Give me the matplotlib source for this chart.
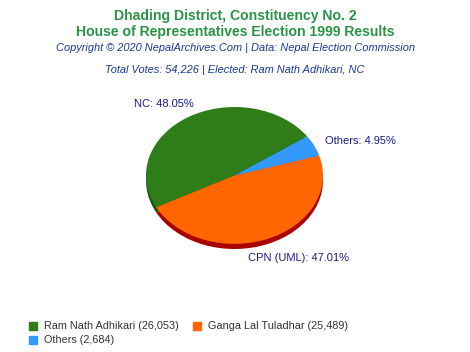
import matplotlib.pyplot as plt

plt.rcParams['font.family'] = ['Liberation Sans', 'DejaVu Sans']

candidates = ['Ram Nath Adhikari', 'Ganga Lal Tuladhar', 'Others']
parties = ['NC', 'CPN (UML)', 'Others']
votes = [26053, 25489, 2684]
colors = ['#2f7d18', '#ff6600', '#3399ff']
shades = ['#1f5210', '#aa0000', '#1f66aa']

total = sum(votes)
pct = [v / total * 100 for v in votes]

fig = plt.figure(figsize=(4.7, 3.52), dpi=100)

# titles
fig.text(0.5, 1 - 16 / 352, 'Dhading District, Constituency No. 2', ha='center', va='center',
         fontsize=10.1, fontweight='bold', color='#2a9445')
fig.text(0.5, 1 - 32 / 352, 'House of Representatives Election 1999 Results', ha='center', va='center',
         fontsize=10.1, fontweight='bold', color='#2a9445')
fig.text(0.5, 1 - 48 / 352, 'Copyright © 2020 NepalArchives.Com | Data: Nepal Election Commission',
         ha='center', va='center', fontsize=7.9, style='italic', color='#1a3a9a')
fig.text(0.5, 1 - 70 / 352, 'Total Votes: {:,} | Elected: {}, {}'.format(total, candidates[0], parties[0]),
         ha='center', va='center', fontsize=7.9, style='italic', color='#1a3a9a')

# pie with a small depth
depth = 0.075
ax = fig.add_axes([146 / 470, (352 - 249) / 352, 177 / 470, 142 / 352])
start = 34.8
ax.pie(votes, colors=shades, startangle=start, counterclock=True, center=(0, -depth),
       wedgeprops=dict(linewidth=0))
ax.pie(votes, colors=colors, startangle=start, counterclock=True, center=(0, 0),
       wedgeprops=dict(linewidth=0))
ax.set_xlim(-1, 1)
ax.set_ylim(-1 - depth, 1)
ax.set_aspect('auto')
ax.axis('off')

lab_col = '#1a1a8c'
fig.text(134 / 470, 1 - 104 / 352, '{}: {:.2f}%'.format(parties[0], pct[0]), ha='left', va='center',
         fontsize=8, color=lab_col)
fig.text(325 / 470, 1 - 141 / 352, '{}: {:.2f}%'.format(parties[2], pct[2]), ha='left', va='center',
         fontsize=8, color=lab_col)
fig.text(248 / 470, 1 - 258 / 352, '{}: {:.2f}%'.format(parties[1], pct[1]), ha='left', va='center',
         fontsize=8, color=lab_col)

# legend
leg_pos = [(29, 326), (193, 326), (29, 340)]
for (x, y), name, v, c in zip(leg_pos, candidates, votes, colors):
    fig.patches.append(plt.Rectangle((x / 470, 1 - (y + 4) / 352), 8 / 470, 8 / 352,
                                     transform=fig.transFigure, color=c, figure=fig))
    fig.text((x + 15) / 470, 1 - y / 352, '{} ({:,})'.format(name, v), ha='left', va='center',
             fontsize=7.85, color='#333333')

fig.savefig('out.png', dpi=100)
